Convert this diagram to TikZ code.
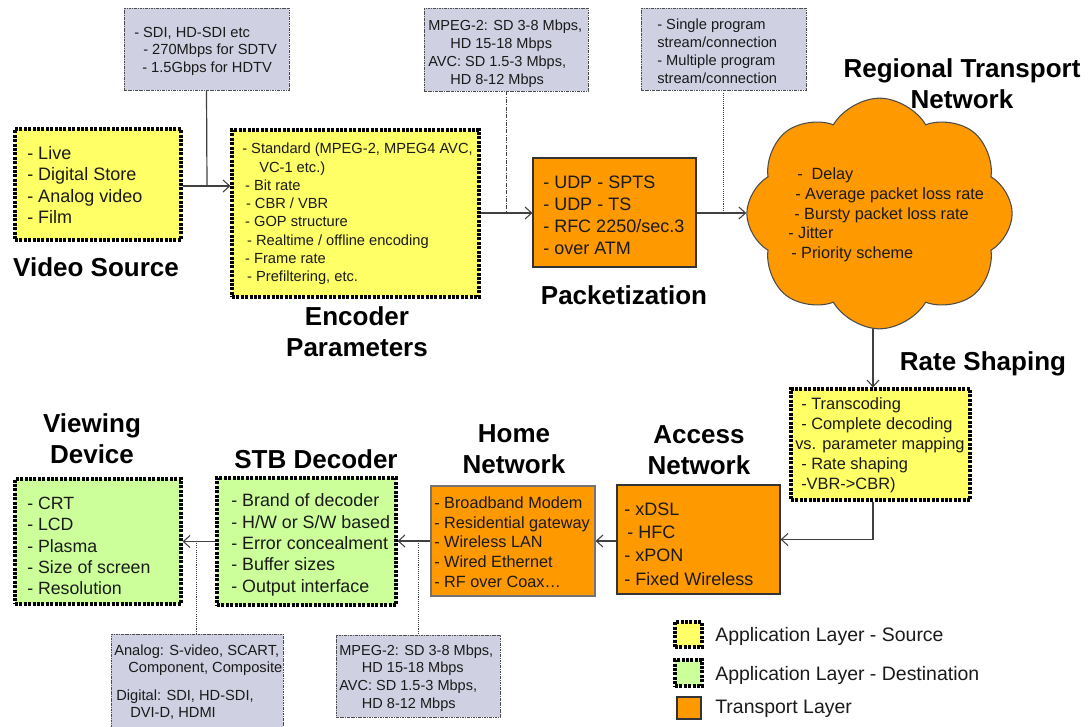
\documentclass[tikz,border=0pt]{standalone}
\usepackage{fontspec}
\setmainfont{Liberation Sans}
\usetikzlibrary{arrows.meta,fit,shapes.symbols,backgrounds}
\definecolor{srcY}{HTML}{FFFF66}
\definecolor{dstG}{HTML}{CCFF99}
\definecolor{trO}{HTML}{FF9900}
\definecolor{noteG}{HTML}{CFD1E2}
\definecolor{lineC}{HTML}{404040}
\definecolor{txtC}{HTML}{1A1A1A}
\begin{document}
\begin{tikzpicture}[x=0.75pt,y=-0.75pt,
  srcbox/.style={fill=srcY, draw=black, line width=2.3pt, dash pattern=on 2.2pt off 1.1pt, inner sep=0pt},
  dstbox/.style={srcbox, fill=dstG},
  trbox/.style={fill=trO, draw=black!80, line width=0.8pt, inner sep=0pt},
  notebox/.style={fill=noteG, draw=black!70, line width=0.6pt, dash pattern=on 2pt off 0.7pt on 0.7pt off 0.7pt, inner sep=0pt},
  txt/.style={anchor=west, align=left, inner sep=0pt, text=txtC},
  ttl/.style={align=center, inner sep=0pt, font=\bfseries\fontsize{19.5}{23.5}\selectfont},
  conn/.style={draw=lineC, line width=0.9pt},
  arr/.style={conn, -{Straight Barb[length=5pt,width=9pt,line width=0.8pt]}},
  dashconn/.style={draw=lineC, line width=0.7pt, dash pattern=on 3pt off 1pt on 0.7pt off 1pt},
  dotconn/.style={draw=lineC, line width=0.7pt, dash pattern=on 0.8pt off 0.8pt},
]
\useasboundingbox (0,0) rectangle (1088,727);
\clip (0,0) rectangle (1088,727);

% ---- Video source
\node[srcbox, fit={(15,129) (181,240)}] (vs) {};
\node[txt, font=\fontsize{13.5}{16}\selectfont] (vst) at (27,185) {- Live\\- Digital Store\\- Analog video\\- Film};
\node[ttl] (vsl) at (96,267) {Video Source};

% ---- Encoder
\node[srcbox, fit={(232,130) (479,297)}] (enc) {};
\node[txt, font=\fontsize{11}{13.7}\selectfont] (enct) at (242,214) {- Standard (MPEG-2, MPEG4 AVC,\\\hspace*{12.75pt}VC-1 etc.)\\\hspace*{2.2pt}- Bit rate\\\hspace*{2.8pt}- CBR / VBR\\\hspace*{2.2pt}- GOP structure\\\hspace*{3.7pt}- Realtime / offline encoding\\\hspace*{2.2pt}- Frame rate\\\hspace*{3.7pt}- Prefiltering, etc.};
\node[ttl] (encl) at (357,332) {Encoder\\Parameters};

% ---- Top notes
\node[notebox, fit={(124,8) (289,90)}] (sdi) {};
\node[txt, font=\fontsize{11}{13.1}\selectfont] (sdit) at (134,51) {- SDI, HD-SDI etc\\\hspace*{6.75pt}- 270Mbps for SDTV\\\hspace*{6pt}- 1.5Gbps for HDTV};

\node[notebox, fit={(424,8) (588,91)}] (mp1) {};
\node[txt, font=\fontsize{10.9}{13.5}\selectfont] (mp1t) at (428,54) {MPEG-2: SD 3-8 Mbps,\\\hspace*{16.5pt}HD 15-18 Mbps\\AVC: SD 1.5-3 Mbps,\\\hspace*{16.5pt}HD 8-12 Mbps};

\node[notebox, fit={(641,8) (806,90)}] (sp) {};
\node[txt, font=\fontsize{11}{13.5}\selectfont] (spt) at (657,51) {- Single program\\stream/connection\\- Multiple program\\stream/connection};

% ---- Packetization
\node[trbox, fit={(533,158) (696,267)}] (pk) {};
\node[txt, font=\fontsize{13.5}{16.5}\selectfont] (pkt) at (543,215) {- UDP - SPTS\\- UDP - TS\\- RFC 2250/sec.3\\- over ATM};
\node[ttl] (pkl) at (624,295) {Packetization};

% ---- Regional transport network (cloud)
\node[cloud, cloud puffs=8, cloud puff arc=120, minimum width=199pt, minimum height=173pt, draw=black!70, fill=trO, line width=0.8pt, inner sep=0pt] (rtn) at (879.5,213.5) {};
\node[txt, font=\fontsize{12.2}{14.8}\selectfont] (rtnt) at (788,215) {\hspace*{6.75pt}-\ \ Delay\\\hspace*{5.25pt}- Average packet loss rate\\\hspace*{4.5pt}- Bursty packet loss rate\\- Jitter\\\hspace*{2.25pt}- Priority scheme};
\node[ttl] (rtnl) at (962,84) {Regional Transport\\Network};

% ---- Rate shaping
\node[srcbox, fit={(791,389) (970,500)}] (rs) {};
\node[txt, font=\fontsize{12.3}{15}\selectfont] (rst) at (795,445) {\hspace*{4.5pt}- Transcoding\\\hspace*{4.5pt}- Complete decoding\\vs. parameter mapping\\\hspace*{4.5pt}- Rate shaping\\\hspace*{4.5pt}-VBR->CBR)};
\node[ttl] (rsl) at (983,364) {Rate Shaping};

% ---- Access network
\node[trbox, fit={(617,485) (780,594)}] (acc) {};
\node[txt, font=\fontsize{13.5}{17.5}\selectfont] (acct) at (624,544) {- xDSL\\\hspace*{2.25pt}- HFC\\- xPON\\- Fixed Wireless};
\node[ttl] (accl) at (699,450) {Access\\Network};

% ---- Home network
\node[trbox, draw=black!55, fit={(431,486) (595,596)}] (home) {};
\node[txt, font=\fontsize{12.2}{14.8}\selectfont] (homet) at (434,542) {- Broadband Modem\\- Residential gateway\\- Wireless LAN\\- Wired Ethernet\\- RF over Coax…};
\node[ttl] (homel) at (514,449) {Home\\Network};

% ---- STB decoder
\node[dstbox, fit={(217,478) (396,605)}] (stb) {};
\node[txt, font=\fontsize{13.4}{16}\selectfont] (stbt) at (231,545) {- Brand of decoder\\- H/W or S/W based\\- Error concealment\\- Buffer sizes\\- Output interface};
\node[ttl] (stbl) at (316,459) {STB Decoder};

% ---- Viewing device
\node[dstbox, fit={(15,479) (181,604)}] (view) {};
\node[txt, font=\fontsize{13.3}{16}\selectfont] (viewt) at (27,546) {- CRT\\- LCD\\- Plasma\\- Size of screen\\- Resolution};
\node[ttl] (viewl) at (92,439) {Viewing\\Device};

% ---- Bottom notes
\node[notebox, fit={(111,634) (283,740)}] (ana) {};
\node[txt, font=\fontsize{11}{13}\selectfont] (anat) at (114,682) {Analog: S-video, SCART,\\\hspace*{10.5pt}Component, Composite\\[8pt]\hspace*{1.5pt}Digital: SDI, HD-SDI,\\\hspace*{12pt}DVI-D, HDMI};

\node[notebox, fit={(336,635) (500,717)}] (mp2) {};
\node[txt, font=\fontsize{10.9}{13.2}\selectfont] (mp2t) at (339,678) {MPEG-2: SD 3-8 Mbps,\\\hspace*{17pt}HD 15-18 Mbps\\AVC: SD 1.5-3 Mbps,\\\hspace*{17pt}HD 8-12 Mbps};

% ---- Legend
\node[srcbox, fit={(675,622) (702,647)}] (lg1) {};
\node[txt, font=\fontsize{14.6}{17}\selectfont] (lg1t) at (715,636) {Application Layer - Source};
\node[dstbox, fit={(675,660) (702,686)}] (lg2) {};
\node[txt, font=\fontsize{14.6}{17}\selectfont] (lg2t) at (715,675) {Application Layer - Destination};
\node[trbox, fit={(677,697) (701,719)}] (lg3) {};
\node[txt, font=\fontsize{14.6}{17}\selectfont] (lg3t) at (715,709) {Transport Layer};

% ---- Connectors
\coordinate (j1) at (207,186);
\coordinate (j2) at (506,213);
\coordinate (j3) at (723.5,213);
\coordinate (j4) at (873,300);
\coordinate (j5) at (418,541);
\coordinate (j6) at (196,541);
\begin{scope}[on background layer]
\draw[conn] (sdi.south) -- (j1);
\draw[arr] (vs.east |- j1) -- (enc.west |- j1);
\draw[dashconn] (mp1.south) -- (j2);
\draw[arr] (enc.east |- j2) -- (pk.west |- j2);
\draw[dotconn] (sp.south) -- (j3);
\draw[arr] (pk.east |- j3) -- (rtn.west |- j3);
\draw[arr] (j4) -- (rs.north -| j4);
\draw[arr] (rs.south -| j4) |- (acc.east);
\draw[arr] (acc.west |- home.east) -- (home.east);
\draw[arr] (home.west) -- (stb.east |- home.west);
\draw[dotconn] (j5) -- (mp2.north -| j5);
\draw[arr] (stb.west) -- (view.east |- stb.west);
\draw[dotconn] (j6) -- (ana.north -| j6);
\end{scope}
\end{tikzpicture}
\end{document}
